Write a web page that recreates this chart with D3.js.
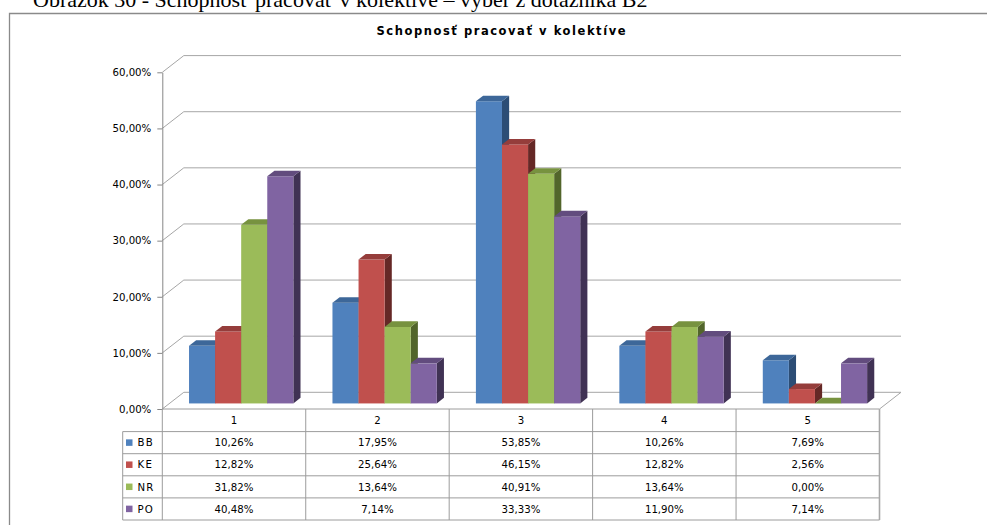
<!DOCTYPE html>
<html>
<head>
<meta charset="utf-8">
<script src="https://cdn.jsdelivr.net/npm/d3@7/dist/d3.min.js"></script>
<style>
  html, body { margin: 0; padding: 0; background: #fff; }
  svg { display: block; }
</style>
</head>
<body>
<svg id="chart" width="987" height="525"></svg>
<script>
// Survey answers (scale 1–5), share of respondents per region, in percent
const categories = ["1", "2", "3", "4", "5"];
const seriesNames = ["BB", "KE", "NR", "PO"];
const valuesBB = [10.26, 17.95, 53.85, 10.26, 7.69];
const valuesKE = [12.82, 25.64, 46.15, 12.82, 2.56];
const valuesNR = [31.82, 13.64, 40.91, 13.64, 0.00];
const valuesPO = [40.48, 7.14, 33.33, 11.90, 7.14];
const yTicks = [0, 10, 20, 30, 40, 50, 60];

const seriesValues = [valuesBB, valuesKE, valuesNR, valuesPO];
const palette = {
  BB: { front: "#4F81BD", top: "#3D6799", side: "#2C4D75" },
  KE: { front: "#C0504D", top: "#953D3B", side: "#652826" },
  NR: { front: "#9BBB59", top: "#77923F", side: "#52652B" },
  PO: { front: "#8064A2", top: "#624C7E", side: "#403254" }
};

const locale = d3.formatLocale({ decimal: ",", thousands: " ", grouping: [3], currency: ["", " €"], percent: "%" });
const pct = locale.format(".2%");
const fmt = v => pct(v / 100);

const svg = d3.select("#chart");
const FONT = "'DejaVu Sans', Verdana, sans-serif";
const FS = 10.2;

// Page caption above the chart frame
svg.append("text")
  .attr("x", 33).attr("y", 7)
  .attr("font-family", "'Liberation Serif', 'Times New Roman', serif")
  .attr("font-size", 22)
  .attr("fill", "#000")
  .text("Obrázok 30 - Schopnosť pracovať v kolektíve – výber z dotazníka B2");

// Chart frame
svg.append("path")
  .attr("d", "M9.5,530 L9.5,13.5 L990,13.5")
  .attr("fill", "none").attr("stroke", "#8a8a8a").attr("stroke-width", 1.3);

// Title
svg.append("text")
  .attr("x", 376.5).attr("y", 35)
  .attr("font-family", FONT).attr("font-weight", "bold").attr("font-size", 11.5)
  .attr("textLength", 249).attr("lengthAdjust", "spacing")
  .attr("fill", "#000")
  .text("Schopnosť pracovať v kolektíve");

// Plot geometry (front plane) and 3D depth offset
const left = 162.3, right = 879.5;
const DX = 21.5, DY = -16.7;

const y = d3.scaleLinear().domain([0, 60]).range([409, 72.3]);
const x = d3.scaleBand().domain(categories).range([left, right]);
const xs = d3.scaleBand().domain(seriesNames).range([0, x.bandwidth()]).paddingOuter(0.75);

const gridColor = "#a6a6a6";
const grid = svg.append("g").attr("fill", "none").attr("stroke", gridColor).attr("stroke-width", 1);

// Back wall gridlines with their diagonals on the side wall
yTicks.forEach(t => {
  const yy = y(t);
  grid.append("path")
    .attr("d", `M${left},${yy} L${left + DX},${yy + DY} L${right + DX},${yy + DY}`);
});
// Floor right edge
grid.append("path").attr("d", `M${right},${y(0)} L${right + DX},${y(0) + DY}`);

// Value axis
const axis = d3.axisLeft(y).tickValues(yTicks).tickFormat(fmt).tickSize(5).tickSizeOuter(0).tickPadding(6);
const ax = svg.append("g").attr("transform", `translate(${left},0)`).call(axis);
ax.select(".domain").attr("stroke", "#868686");
ax.selectAll(".tick line").attr("stroke", "#868686");
ax.selectAll(".tick text").attr("font-family", FONT).attr("font-size", FS).attr("fill", "#000");

// Bars drawn as 3D boxes sitting in the middle third of the depth
const fx = DX / 3, fy = DY / 3, ddx = DX / 3, ddy = DY / 3;
const barW = xs.bandwidth();
const bars = svg.append("g");
categories.forEach((c, ci) => {
  seriesNames.forEach((s, si) => {
    const v = seriesValues[si][ci];
    const col = palette[s];
    const x0 = x(c) + xs(s) + fx;
    const yt = y(v) + fy;
    const yb = y(0) + fy;
    const g = bars.append("g");
    // side face
    g.append("path")
      .attr("d", `M${x0 + barW},${yt} L${x0 + barW + ddx},${yt + ddy} L${x0 + barW + ddx},${yb + ddy} L${x0 + barW},${yb} Z`)
      .attr("fill", col.side);
    // front face
    g.append("rect")
      .attr("x", x0).attr("y", yt).attr("width", barW).attr("height", Math.max(0, yb - yt))
      .attr("fill", col.front);
    // top face
    g.append("path")
      .attr("d", `M${x0},${yt} L${x0 + barW},${yt} L${x0 + barW + ddx},${yt + ddy} L${x0 + ddx},${yt + ddy} Z`)
      .attr("fill", col.top);
  });
});

// Data table below the plot
const headTop = 409, headH = 22.6, rowH = 22.1, legLeft = 122.7;
const tableBottom = headTop + headH + rowH * seriesNames.length;
const tbl = svg.append("g");
const lineColor = "#9c9c9c";

// header row (category labels)
categories.forEach(c => {
  tbl.append("text")
    .attr("x", x(c) + x.bandwidth() / 2).attr("y", headTop + headH / 2)
    .attr("dy", "0.36em").attr("text-anchor", "middle")
    .attr("font-family", FONT).attr("font-size", FS).attr("fill", "#000")
    .text(c);
});

seriesNames.forEach((s, si) => {
  const ry = headTop + headH + si * rowH;
  tbl.append("rect")
    .attr("x", 126).attr("y", ry + rowH / 2 - 3.3).attr("width", 6.5).attr("height", 6.5)
    .attr("fill", palette[s].front);
  tbl.append("text")
    .attr("x", 137.5).attr("y", ry + rowH / 2).attr("dy", "0.36em")
    .attr("font-family", FONT).attr("font-size", FS).attr("letter-spacing", 1.2).attr("fill", "#000")
    .text(s);
  categories.forEach((c, ci) => {
    tbl.append("text")
      .attr("x", x(c) + x.bandwidth() / 2).attr("y", ry + rowH / 2).attr("dy", "0.36em")
      .attr("text-anchor", "middle")
      .attr("font-family", FONT).attr("font-size", FS).attr("fill", "#000")
      .text(fmt(seriesValues[si][ci]));
  });
});

// table grid lines
const tl = tbl.append("g").attr("stroke", lineColor).attr("stroke-width", 1).attr("fill", "none");
tl.append("line").attr("x1", left).attr("x2", right).attr("y1", headTop).attr("y2", headTop);
for (let i = 0; i <= seriesNames.length; i++) {
  const ry = headTop + headH + i * rowH;
  tl.append("line").attr("x1", legLeft).attr("x2", right).attr("y1", ry).attr("y2", ry);
}
tl.append("line").attr("x1", legLeft).attr("x2", legLeft).attr("y1", headTop + headH).attr("y2", tableBottom);
categories.forEach(c => {
  tl.append("line").attr("x1", x(c)).attr("x2", x(c)).attr("y1", headTop).attr("y2", tableBottom);
});
tl.append("line").attr("x1", right).attr("x2", right).attr("y1", headTop).attr("y2", tableBottom)
  .attr("stroke-width", 1.6).attr("stroke", "#a8a8a8");
</script>
</body>
</html>
